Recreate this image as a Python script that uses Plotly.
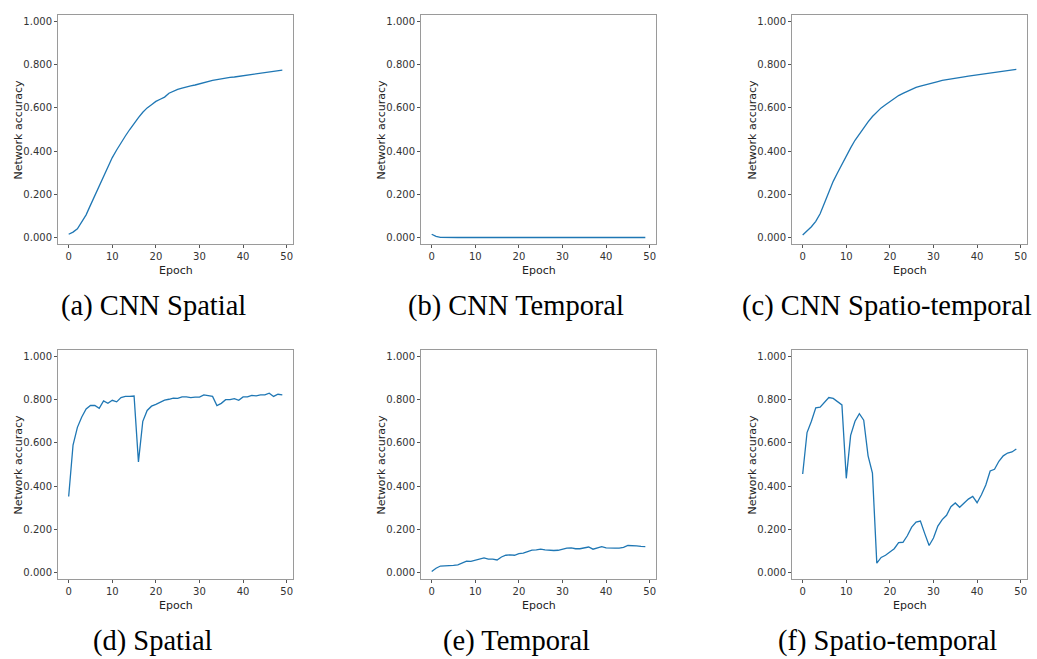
import plotly.graph_objects as go

# Training curves: network accuracy per epoch for each model
epochs = list(range(50))

cnn_spatial = [0.015, 0.025, 0.04, 0.07, 0.105, 0.15, 0.195, 0.24, 0.28, 0.325,
               0.37, 0.405, 0.44, 0.47, 0.5, 0.53, 0.555, 0.58, 0.6, 0.615,
               0.63, 0.64, 0.65, 0.668, 0.678, 0.686, 0.692, 0.698, 0.702, 0.706,
               0.712, 0.718, 0.723, 0.727, 0.731, 0.735, 0.738, 0.741, 0.743, 0.746,
               0.749, 0.752, 0.755, 0.758, 0.761, 0.764, 0.767, 0.77, 0.773, 0.775]

cnn_temporal = [0.015, 0.005, 0.001] + [0.0] * 47

cnn_spatiotemporal = [0.012, 0.03, 0.05, 0.075, 0.11, 0.16, 0.21, 0.26, 0.3, 0.34,
                      0.38, 0.415, 0.45, 0.48, 0.51, 0.535, 0.56, 0.58, 0.6, 0.615,
                      0.63, 0.643, 0.657, 0.667, 0.677, 0.687, 0.695, 0.701, 0.707, 0.712,
                      0.718, 0.722, 0.727, 0.731, 0.734, 0.737, 0.741, 0.744, 0.747, 0.75,
                      0.753, 0.756, 0.758, 0.761, 0.763, 0.766, 0.768, 0.771, 0.774, 0.778]

spatial = [0.352, 0.59, 0.672, 0.72, 0.757, 0.773, 0.773, 0.76, 0.794, 0.783,
           0.797, 0.79, 0.81, 0.815, 0.815, 0.817, 0.512, 0.7, 0.75, 0.77,
           0.778, 0.79, 0.798, 0.802, 0.807, 0.806, 0.813, 0.813, 0.81, 0.812,
           0.812, 0.822, 0.818, 0.815, 0.773, 0.783, 0.8, 0.8, 0.805, 0.797,
           0.813, 0.813, 0.82, 0.818, 0.822, 0.822, 0.83, 0.815, 0.825, 0.822]

temporal = [0.005, 0.02, 0.03, 0.03, 0.032, 0.033, 0.035, 0.045, 0.053, 0.052,
            0.058, 0.062, 0.068, 0.062, 0.062, 0.058, 0.072, 0.08, 0.082, 0.08,
            0.087, 0.09, 0.097, 0.104, 0.105, 0.108, 0.105, 0.103, 0.102, 0.103,
            0.108, 0.113, 0.114, 0.11, 0.11, 0.113, 0.118, 0.108, 0.115, 0.12,
            0.114, 0.115, 0.113, 0.113, 0.116, 0.125, 0.125, 0.123, 0.121, 0.12]

spatiotemporal = [0.456, 0.648, 0.7, 0.762, 0.765, 0.788, 0.81, 0.806, 0.79, 0.776,
                  0.436, 0.635, 0.7, 0.735, 0.705, 0.54, 0.46, 0.043, 0.07, 0.08,
                  0.095, 0.11, 0.138, 0.14, 0.17, 0.21, 0.233, 0.238, 0.18, 0.125,
                  0.16, 0.215, 0.245, 0.265, 0.305, 0.322, 0.302, 0.32, 0.34, 0.352,
                  0.323, 0.36, 0.405, 0.47, 0.478, 0.515, 0.54, 0.553, 0.558, 0.572]

series = [cnn_spatial, cnn_temporal, cnn_spatiotemporal, spatial, temporal, spatiotemporal]
captions = ["(a) CNN Spatial", "(b) CNN Temporal", "(c) CNN Spatio-temporal",
            "(d) Spatial", "(e) Temporal", "(f) Spatio-temporal"]
y_ticks = [0.0, 0.2, 0.4, 0.6, 0.8, 1.0]
x_ticks = [0, 10, 20, 30, 40, 50]

W, H = 1037, 659
# pixel boxes of each plot area (left, right) and (top, bottom)
col_px = [(58, 293), (421, 656), (792, 1027)]
row_px = [(15, 244), (350, 579)]
caption_y = [306, 641]
caption_x = [153, 516, 887]

fig = go.Figure()
layout = dict(width=W, height=H, margin=dict(l=0, r=0, t=0, b=0),
              paper_bgcolor="white", plot_bgcolor="white", showlegend=False)
annotations = []

tick_font = dict(family="DejaVu Sans", size=10, color="#333333")
label_font = dict(family="DejaVu Sans", size=11, color="#222222")

for i, ys in enumerate(series):
    r, c = divmod(i, 3)
    k = "" if i == 0 else str(i + 1)
    x0, x1 = col_px[c]
    t0, t1 = row_px[r]
    fig.add_trace(go.Scatter(x=epochs, y=ys, mode="lines",
                             line=dict(color="#1f77b4", width=1.3),
                             xaxis="x" + k, yaxis="y" + k, hoverinfo="skip"))
    axis_common = dict(showgrid=False, zeroline=False, showline=True, mirror=True,
                       linecolor="#9a9a9a", linewidth=1, ticks="outside", ticklen=3,
                       tickwidth=1, tickcolor="#555555", tickfont=tick_font)
    layout["xaxis" + k] = dict(axis_common, domain=[x0 / W, x1 / W], anchor="y" + k,
                               range=[-2.45, 51.45], tickvals=x_ticks)
    layout["yaxis" + k] = dict(axis_common, domain=[(H - t1) / H, (H - t0) / H],
                               anchor="x" + k, range=[-0.03, 1.03], tickvals=y_ticks,
                               tickformat=".3f")
    # axis titles
    annotations.append(dict(text="Epoch", xref="paper", yref="paper",
                            x=((x0 + x1) / 2 + 0) / W, y=(H - (t1 + 18)) / H,
                            xanchor="center", yanchor="top", showarrow=False,
                            font=label_font))
    annotations.append(dict(text="Network accuracy", xref="paper", yref="paper",
                            x=(x0 - 40) / W, y=(H - (t0 + t1) / 2) / H, textangle=-90,
                            xanchor="center", yanchor="middle", showarrow=False,
                            font=label_font))
    # subfigure caption
    annotations.append(dict(text=captions[i], xref="paper", yref="paper",
                            x=caption_x[c] / W, y=(H - caption_y[r]) / H,
                            xanchor="center", yanchor="middle", showarrow=False,
                            font=dict(family="Liberation Serif", size=28.5, color="black")))

layout["annotations"] = annotations
fig.update_layout(**layout)
fig.write_html("out.html")
